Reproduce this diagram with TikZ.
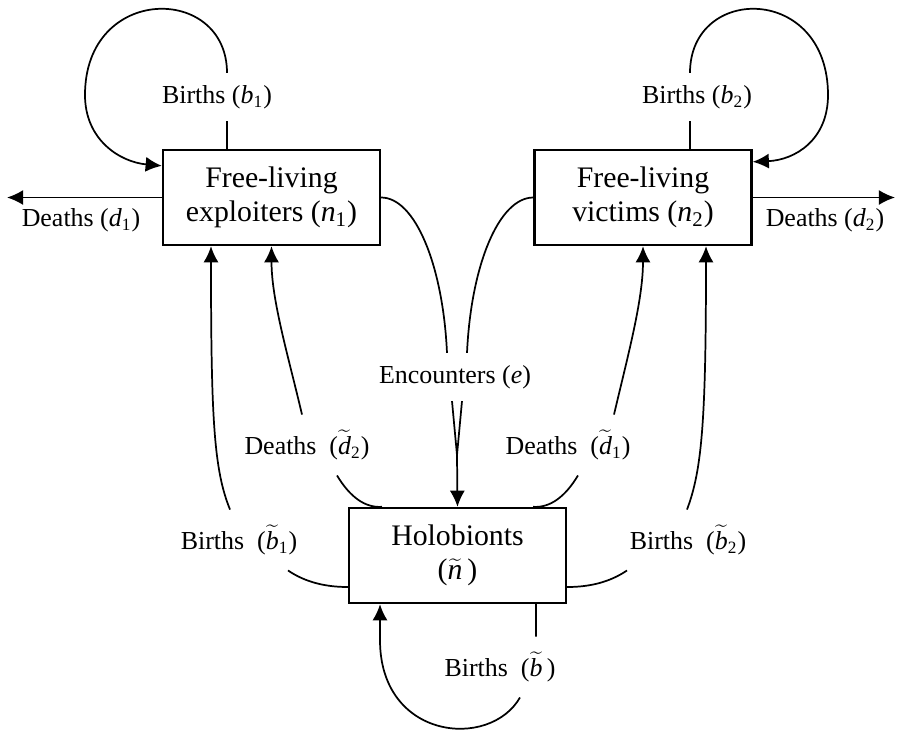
\documentclass[tikz,border=0pt]{standalone}
\usepackage{fontspec}
\setmainfont{Liberation Serif}
\usetikzlibrary{arrows.meta}

\newcommand{\pv}[2]{\textit{#1}\textsubscript{#2}}
\newcommand{\tv}[1]{$\widetilde{\mbox{\textit{#1}}}$}

\begin{document}
\begin{tikzpicture}[x=0.463pt,y=-0.463pt,>={Latex[length=7.5pt,width=7pt]},
  pop/.style={draw,line width=1.1pt,minimum width=\boxwidth*0.463pt,minimum height=\boxheight*0.463pt,align=center,font=\fontsize{13.8}{15.5}\selectfont},
  lab/.style={inner sep=5.5pt,font=\fontsize{12}{14}\selectfont},
  tlab/.style={lab,inner sep=7pt}]

\def\boxwidth{217};
\def\boxheight{95};
\def\gap{\hspace{.5em}};

\useasboundingbox (0,0) rectangle (898,730);

\node[pop] (exploit) at (271.5,197.5) {Free-living\\exploiters (\pv{n}{1})};
\node[pop] (victim) at (643,197.5) {Free-living\\victims (\pv{n}{2})};
\node[pop] (holo) at (457.5,555.5) {Holobionts\\(\tv{n}\,)};

\node[lab] (birthA) at (217,97) {Births (\pv{b}{1})};
\node[lab] (birthV) at (697,97) {Births (\pv{b}{2})};
\node[lab] (deathA) at (81,220) {Deaths (\pv{d}{1})};
\node[lab] (deathV) at (825,220) {Deaths (\pv{d}{2})};
\node[lab] (enc) at (455,377) {Encounters (\textit{e})};
\node[tlab] (dtildeB) at (307,445) {Deaths\gap(\tv{d}\textsubscript{2})};
\node[tlab] (dtildeA) at (568,445) {Deaths\gap(\tv{d}\textsubscript{1})};
\node[tlab] (btildeA) at (239,540) {Births\gap(\tv{b}\textsubscript{1})};
\node[tlab] (btildeV) at (688,540) {Births\gap(\tv{b}\textsubscript{2})};
\node[tlab] (btilde) at (500,667) {Births\gap(\tv{b}\,)};

\coordinate (deadA) at (7,197.5);
\coordinate (deadV) at (895,197.5);
\coordinate (meet) at (457,455);

\draw[thick] ([shift={(-44.5,0)}]exploit.north) -- ([shift={(10,0)}]birthA.south);
\draw[thick,->] ([shift={(10,0)}]birthA.north) .. controls (227,-16) and (85,-16) .. (85,95) .. controls (85,140) and (120,162) .. ([shift={(0,17)}]exploit.north west);
\draw[thick] ([shift={(47,0)}]victim.north) -- ([shift={(-7,0)}]birthV.south);
\draw[thick,->] ([shift={(-7,0)}]birthV.north) .. controls (690,-16) and (828,-16) .. (828,95) .. controls (828,140) and (795,160) .. ([shift={(0,13)}]victim.north east);

\draw[thick,->] (exploit.west) -- (deadA);
\draw[thick,->] (victim.east) -- (deadV);

\draw[thick] (exploit.east) .. controls (415,197.5) and (443,265) .. ([shift={(-8,0)}]enc.north);
\draw[thick] (victim.west) .. controls (499,197.5) and (471,265) .. ([shift={(12,0)}]enc.north);
\draw[thick] ([shift={(-3,0)}]enc.south) -- (meet);
\draw[thick] ([shift={(7,0)}]enc.south) -- (meet);
\draw[thick,->] (meet) -- (holo.north);

\draw[thick,->] ([shift={(-5,0)}]dtildeB.north) .. controls (288,355) and (271.5,300) .. (exploit.south);
\draw[thick] ([shift={(30,0)}]dtildeB.south) .. controls (350,497) and (365,508) .. ([shift={(-75.5,0)}]holo.north);
\draw[thick,->] ([shift={(46,0)}]dtildeA.north) .. controls (628,355) and (643,300) .. (victim.south);
\draw[thick] ([shift={(10,0)}]dtildeA.south) .. controls (565,497) and (550,508) .. ([shift={(75.5,0)}]holo.north);

\draw[thick,->] ([shift={(-9,0)}]btildeA.north) .. controls (214,470) and (211,420) .. ([shift={(-60.5,0)}]exploit.south);
\draw[thick] ([shift={(49,0)}]btildeA.south) .. controls (305,582) and (325,587) .. ([shift={(0,31.5)}]holo.west);
\draw[thick,->] ([shift={(-1,0)}]btildeV.north) .. controls (702,470) and (706,420) .. ([shift={(63,0)}]victim.south);
\draw[thick] ([shift={(-61,0)}]btildeV.south) .. controls (610,582) and (590,587) .. ([shift={(0,31.5)}]holo.east);

\draw[thick] ([shift={(78.5,0)}]holo.south) -- ([shift={(36,0)}]btilde.north);
\draw[thick,->] ([shift={(20,0)}]btilde.south) .. controls (490,750) and (380,740) .. (380,640) -- ([shift={(-77.5,0)}]holo.south);
\end{tikzpicture}
\end{document}
